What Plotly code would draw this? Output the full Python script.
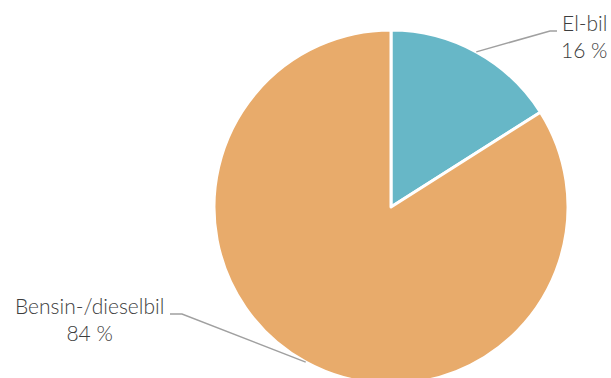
import math
import plotly.graph_objects as go

labels = ["El-bil", "Bensin-/dieselbil"]
values = [16, 84]
pct_text = ["16 %", "84 %"]
colors = ["#67B7C7", "#E8AB6B"]

W, H = 611, 390
cx, cy, R = 391, 207, 177  # pie centre/radius in pixels (top-left origin)

def px(x):
    return x / W

def py(y):
    return (H - y) / H

fig = go.Figure(go.Pie(
    labels=labels,
    values=values,
    sort=False,
    direction="clockwise",
    rotation=0,
    textinfo="none",
    hoverinfo="label+percent",
    marker=dict(colors=colors, line=dict(color="white", width=3)),
    domain=dict(x=[px(cx - R), px(cx + R)], y=[py(cy + R), py(cy - R)]),
    showlegend=False,
))

# leader line starts at slice mid-angle on the rim
total = sum(values)
mids = []
acc = 0
for v in values:
    mids.append((acc + v / 2) / total * 2 * math.pi)
    acc += v

font = dict(family="Lato", size=21, color="#3d3d3d", weight=300)
line_style = dict(color="#a0a0a0", width=1.5)

# El-bil
a = mids[0]
sx, sy = cx + R * math.sin(a), cy - R * math.cos(a)
fig.add_shape(type="path", xref="paper", yref="paper",
              path=f"M {px(sx)} {py(sy)} L {px(550)} {py(31)} L {px(557)} {py(31)}",
              line=line_style)
fig.add_annotation(x=px(609), y=py(36), xref="paper", yref="paper",
                   text=f"{labels[0]}<br>{pct_text[0]}", showarrow=False,
                   xanchor="right", yanchor="middle", align="right", font=font)

# Bensin
a = mids[1]
sx, sy = cx + R * math.sin(a), cy - R * math.cos(a)
fig.add_shape(type="path", xref="paper", yref="paper",
              path=f"M {px(sx)} {py(sy)} L {px(182)} {py(314)} L {px(170)} {py(314)}",
              line=line_style)
fig.add_annotation(x=px(89), y=py(319), xref="paper", yref="paper",
                   text=f"{labels[1]}<br>{pct_text[1]}", showarrow=False,
                   xanchor="center", yanchor="middle", align="center", font=font)

fig.update_layout(width=W, height=H, margin=dict(l=0, r=0, t=0, b=0),
                  paper_bgcolor="white", plot_bgcolor="white")

fig.write_html("out.html", config={"displayModeBar": False}, post_script=(
    "document.body.style.margin='0';"
    "document.body.style.overflow='hidden';"
    "document.documentElement.style.overflow='hidden';"
))
